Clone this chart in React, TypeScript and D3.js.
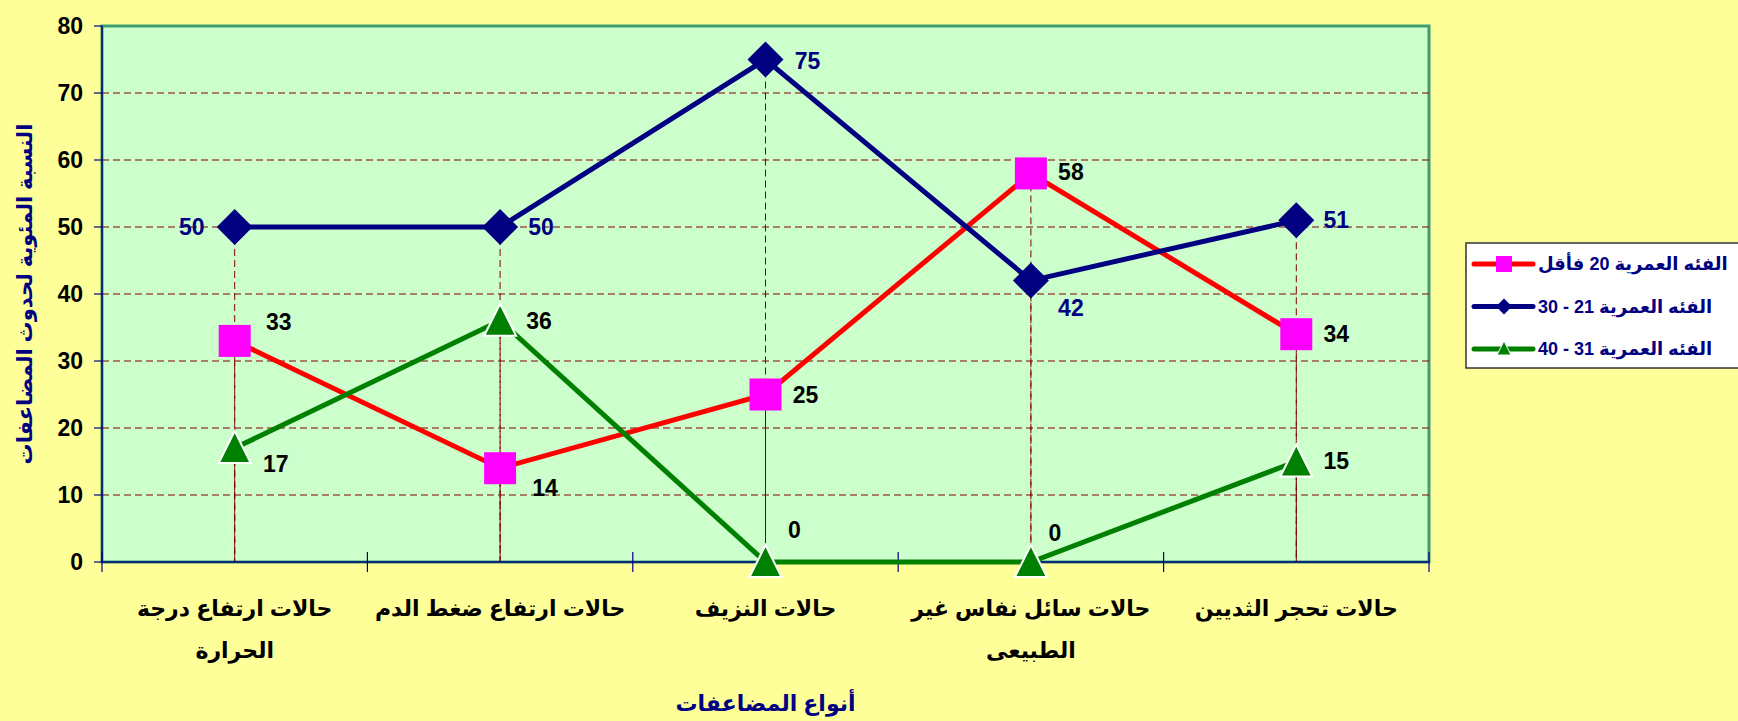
import * as d3 from 'd3'

const categories = [
  ['حالات ارتفاع درجة', 'الحرارة'],
  ['حالات ارتفاع ضغط الدم'],
  ['حالات النزيف'],
  ['حالات سائل نفاس غير', 'الطبيعى'],
  ['حالات تحجر الثديين'],
]

const seriesNames = [
  'الفئه العمرية 20 فأقل',
  'الفئه العمرية 21 - 30',
  'الفئه العمرية 31 - 40',
]

const under20 = [33, 14, 25, 58, 34]
const age21to30 = [50, 50, 75, 42, 51]
const age31to40 = [17, 36, 0, 0, 15]

const yTicks = [0, 10, 20, 30, 40, 50, 60, 70, 80]

const yTitle = 'النسبة المئوية لحدوث المضاعفات'
const xTitle = 'أنواع المضاعفات'

const W = 1738
const H = 721
const plot = { left: 102, right: 1429, top: 26, bottom: 562 }
const font = 'Arial, "Liberation Sans", "DejaVu Sans", sans-serif'

// label offsets per series/point (px from the marker)
const labelOffsets = [
  [[44, -19], [45, 20], [40, 0], [40, -1], [40, 0]],
  [[-43, 0], [41, 0], [42, 1], [40, 27], [40, 0]],
  [[41, 16], [39, 0], [29, -32], [24, -29], [40, -1]],
]

const styles = [
  { line: '#FF0000', marker: 'square', fill: '#FF00FF', label: '#000000' },
  { line: '#000080', marker: 'diamond', fill: '#000080', label: '#000080' },
  { line: '#008000', marker: 'triangle', fill: '#008000', label: '#000000' },
]

const Marker = ({ type, x, y, fill }) => {
  if (type === 'square')
    return <rect x={x - 16} y={y - 16} width={32} height={32} fill={fill} />
  if (type === 'diamond')
    return (
      <path d={`M${x},${y - 18}L${x + 18},${y}L${x},${y + 18}L${x - 18},${y}Z`} fill={fill} />
    )
  return (
    <path
      d={`M${x},${y - 17}L${x + 16},${y + 15}L${x - 16},${y + 15}Z`}
      fill={fill}
      stroke="#fff"
      strokeWidth={2}
    />
  )
}

const LegendMarker = ({ type, x, y, fill }) => {
  if (type === 'square')
    return <rect x={x - 8} y={y - 8} width={16} height={16} fill={fill} />
  if (type === 'diamond')
    return <path d={`M${x},${y - 8}L${x + 8},${y}L${x},${y + 8}L${x - 8},${y}Z`} fill={fill} />
  return <path d={`M${x},${y - 8}L${x + 7},${y + 6}L${x - 7},${y + 6}Z`} fill={fill} stroke="#fff" strokeWidth={1} />
}

export default function App() {
  const data = [under20, age21to30, age31to40]

  const x = d3
    .scaleBand<number>()
    .domain(d3.range(categories.length))
    .range([plot.left, plot.right])
    .padding(0)

  const y = d3.scaleLinear().domain([0, 80]).range([plot.bottom, plot.top])

  const cx = (i: number) => (x(i) ?? 0) + x.bandwidth() / 2

  const lineGen = d3
    .line<number>()
    .x((_, i) => cx(i))
    .y((d) => y(d))

  const boundaries = d3.range(categories.length + 1).map((i) => plot.left + i * x.bandwidth())

  return (
    <svg
      width={W}
      height={H}
      style={{ position: 'absolute', left: 0, top: 0, display: 'block' }}
      fontFamily={font}
    >
      <rect width={W} height={H} fill="#FFFF99" />

      {/* plot area */}
      <rect
        x={plot.left}
        y={plot.top}
        width={plot.right - plot.left}
        height={plot.bottom - plot.top}
        fill="#CCFFCC"
        stroke="#3E9E6E"
        strokeWidth={3}
      />

      {/* grid */}
      {yTicks
        .filter((t) => t > 0 && t < 80)
        .map((t) => (
          <line
            key={t}
            x1={plot.left}
            x2={plot.right}
            y1={y(t)}
            y2={y(t)}
            stroke="#800000"
            strokeWidth={1}
            strokeDasharray="7,4"
          />
        ))}

      {/* drop lines */}
      {data.map((vals, s) =>
        vals.map((v, i) =>
          v > 0 ? (
            <line
              key={`${s}-${i}`}
              x1={cx(i)}
              x2={cx(i)}
              y1={y(v)}
              y2={plot.bottom}
              stroke="#800000"
              strokeWidth={1}
              strokeDasharray="7,4"
            />
          ) : null
        )
      )}

      {/* axes */}
      <line x1={plot.left} x2={plot.left} y1={plot.top} y2={plot.bottom} stroke="#000080" strokeWidth={1.5} />
      <line x1={plot.left} x2={plot.right} y1={plot.bottom} y2={plot.bottom} stroke="#000080" strokeWidth={1.5} />
      {yTicks.map((t) => (
        <g key={t}>
          <line x1={plot.left - 8} x2={plot.left} y1={y(t)} y2={y(t)} stroke="#000080" strokeWidth={1.2} />
          <text
            x={plot.left - 19}
            y={y(t)}
            textAnchor="end"
            dominantBaseline="central"
            fontSize={23}
            fontWeight="bold"
            fill="#000"
          >
            {t}
          </text>
        </g>
      ))}
      {boundaries.map((bx, i) => (
        <line key={i} x1={bx} x2={bx} y1={plot.bottom - 10} y2={plot.bottom + 10} stroke="#000080" strokeWidth={1.2} />
      ))}

      {/* category labels */}
      {categories.map((lines, i) => (
        <text
          key={i}
          x={cx(i)}
          textAnchor="middle"
          fontSize={22}
          fontWeight="bold"
          fill="#000"
          direction="rtl"
        >
          {lines.map((l, k) => (
            <tspan key={k} x={cx(i)} y={608 + k * 42} dominantBaseline="central">
              {l}
            </tspan>
          ))}
        </text>
      ))}

      {/* series */}
      {data.map((vals, s) => (
        <path key={s} d={lineGen(vals) ?? ''} fill="none" stroke={styles[s].line} strokeWidth={5} />
      ))}
      {data.map((vals, s) =>
        vals.map((v, i) => (
          <Marker key={`${s}-${i}`} type={styles[s].marker} x={cx(i)} y={y(v)} fill={styles[s].fill} />
        ))
      )}
      {data.map((vals, s) =>
        vals.map((v, i) => (
          <text
            key={`${s}-${i}`}
            x={cx(i) + labelOffsets[s][i][0]}
            y={y(v) + labelOffsets[s][i][1]}
            textAnchor="middle"
            dominantBaseline="central"
            fontSize={23}
            fontWeight="bold"
            fill={styles[s].label}
          >
            {v}
          </text>
        ))
      )}

      {/* axis titles */}
      <text
        transform={`translate(24, ${(plot.top + plot.bottom) / 2}) rotate(-90)`}
        textAnchor="middle"
        dominantBaseline="central"
        fontSize={21}
        fontWeight="bold"
        fill="#000080"
        direction="rtl"
      >
        {yTitle}
      </text>
      <text
        x={(plot.left + plot.right) / 2}
        y={703}
        textAnchor="middle"
        dominantBaseline="central"
        fontSize={22}
        fontWeight="bold"
        fill="#000080"
        direction="rtl"
      >
        {xTitle}
      </text>

      {/* legend */}
      <rect x={1466} y={243} width={290} height={125} fill="#fff" stroke="#333" strokeWidth={1.5} />
      {seriesNames.map((name, s) => {
        const ly = 264 + s * 42.5
        return (
          <g key={s}>
            <line x1={1474} x2={1533} y1={ly} y2={ly} stroke={styles[s].line} strokeWidth={5} strokeLinecap="round" />
            <LegendMarker type={styles[s].marker} x={1504} y={ly} fill={styles[s].fill} />
            <text
              x={1538}
              y={ly}
              textAnchor="end"
              direction="rtl"
              dominantBaseline="central"
              fontSize={18}
              fontWeight="bold"
              fill="#000080"
            >
              {name}
            </text>
          </g>
        )
      })}
    </svg>
  )
}
